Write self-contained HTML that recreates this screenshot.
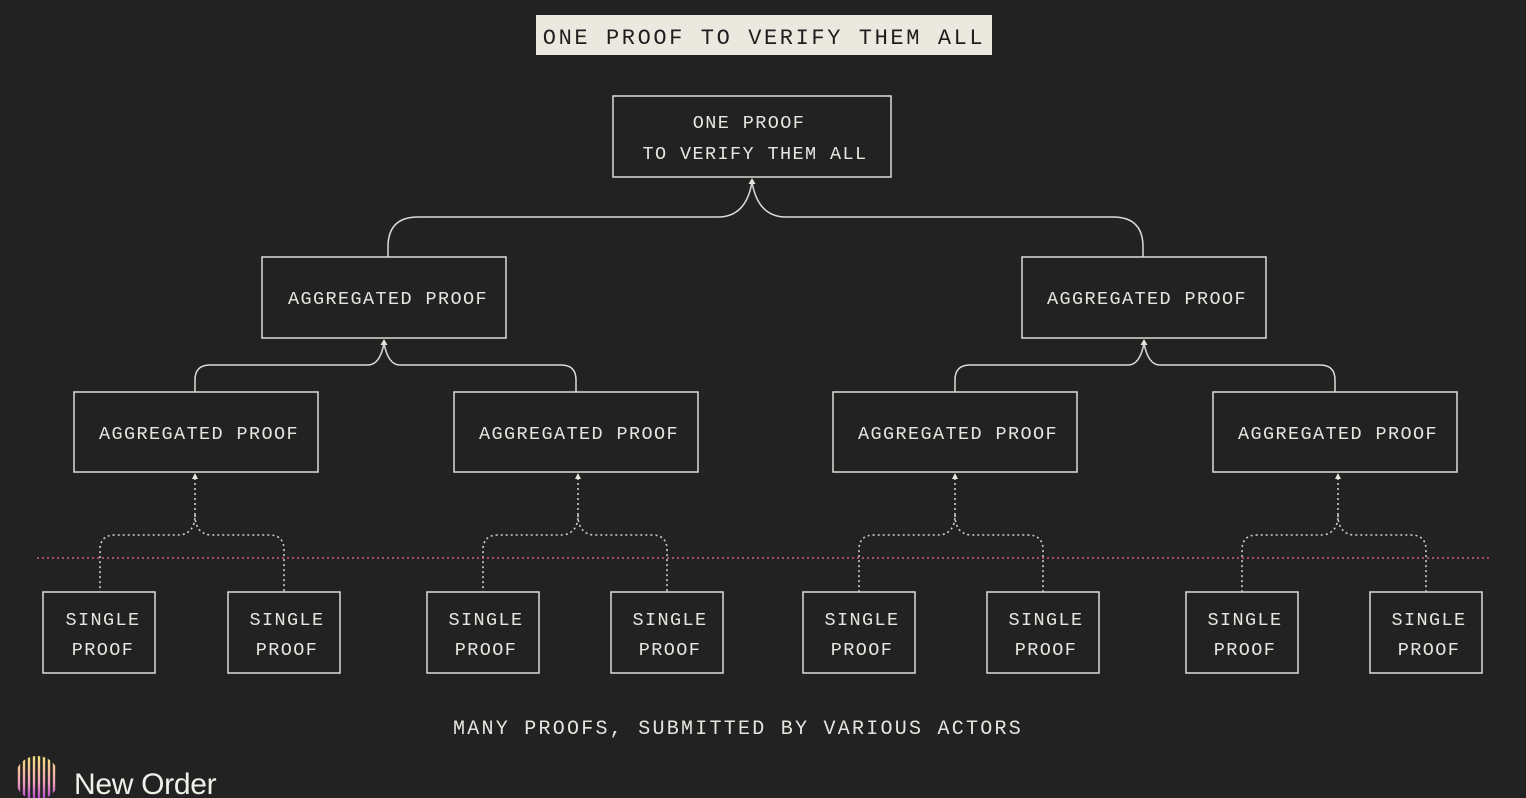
<!DOCTYPE html>
<html><head><meta charset="utf-8"><style>
html,body{margin:0;padding:0;background:#222222;}
svg{display:block}
text{font-family:"Liberation Mono",monospace;fill:#e6e6e0}
</style></head><body>
<svg id="s" width="1526" height="798" xmlns="http://www.w3.org/2000/svg">
<rect width="1526" height="798" fill="#222222"/>
<rect x="536" y="15" width="456" height="40" fill="#ebe9df"/>
<text x="764" y="44" text-anchor="middle" font-size="22" letter-spacing="2.6" style="fill:#1e1e1e">ONE PROOF TO VERIFY THEM ALL</text>
<g fill="none" stroke="#dcdcd6" stroke-width="1.5">
<rect x="613" y="96" width="278" height="81"/>
<rect x="262" y="257" width="244" height="81"/>
<rect x="1022" y="257" width="244" height="81"/>
<rect x="74" y="392" width="244" height="80"/>
<rect x="454" y="392" width="244" height="80"/>
<rect x="833" y="392" width="244" height="80"/>
<rect x="1213" y="392" width="244" height="80"/>
<rect x="43" y="592" width="112" height="81"/>
<rect x="228" y="592" width="112" height="81"/>
<rect x="427" y="592" width="112" height="81"/>
<rect x="611" y="592" width="112" height="81"/>
<rect x="803" y="592" width="112" height="81"/>
<rect x="987" y="592" width="112" height="81"/>
<rect x="1186" y="592" width="112" height="81"/>
<rect x="1370" y="592" width="112" height="81"/>
<path d="M388 257 V247 Q388 217 418 217 H718 Q746 217 752 182 Q758 217 786 217 H1113 Q1143 217 1143 247 V257"/>
<path d="M195 392 V380 Q195 365 210 365 H368 Q380 365 384 343 Q388 365 400 365 H561 Q576 365 576 380 V392"/>
<path d="M955 392 V380 Q955 365 970 365 H1128 Q1140 365 1144 343 Q1148 365 1160 365 H1320 Q1335 365 1335 380 V392"/>
</g>
<g fill="none" stroke="#cfcfc8" stroke-width="1.6" stroke-dasharray="2 3">
<path d="M195 478 V515 Q195 533 180 535 H115 Q100 535 100 550 V592 M195 515 Q195 533 210 535 H269 Q284 535 284 550 V592"/>
<path d="M578 478 V515 Q578 533 563 535 H498 Q483 535 483 550 V592 M578 515 Q578 533 593 535 H652 Q667 535 667 550 V592"/>
<path d="M955 478 V515 Q955 533 940 535 H874 Q859 535 859 550 V592 M955 515 Q955 533 970 535 H1028 Q1043 535 1043 550 V592"/>
<path d="M1338 478 V515 Q1338 533 1323 535 H1257 Q1242 535 1242 550 V592 M1338 515 Q1338 533 1353 535 H1411 Q1426 535 1426 550 V592"/>
</g>
<line x1="37" y1="558" x2="1490" y2="558" stroke="#d0607a" stroke-width="1.6" stroke-dasharray="2 3"/>
<g fill="#e6e6e0">
<path d="M752 178 l-3.5 6 h7z"/>
<path d="M384 339 l-3.5 6 h7z"/>
<path d="M1144 339 l-3.5 6 h7z"/>
<path d="M195 473 l-3 6 h6z"/>
<path d="M578 473 l-3 6 h6z"/>
<path d="M955 473 l-3 6 h6z"/>
<path d="M1338 473 l-3 6 h6z"/>
</g>
<g font-size="18.5" letter-spacing="1.4" text-anchor="middle">
<text x="749" y="128">ONE PROOF</text>
<text x="755" y="159">TO VERIFY THEM ALL</text>
<text x="388" y="304">AGGREGATED PROOF</text>
<text x="1147" y="304">AGGREGATED PROOF</text>
<text x="199" y="439">AGGREGATED PROOF</text>
<text x="579" y="439">AGGREGATED PROOF</text>
<text x="958" y="439">AGGREGATED PROOF</text>
<text x="1338" y="439">AGGREGATED PROOF</text>
<text x="103" y="625">SINGLE</text><text x="103" y="655">PROOF</text>
<text x="287" y="625">SINGLE</text><text x="287" y="655">PROOF</text>
<text x="486" y="625">SINGLE</text><text x="486" y="655">PROOF</text>
<text x="670" y="625">SINGLE</text><text x="670" y="655">PROOF</text>
<text x="862" y="625">SINGLE</text><text x="862" y="655">PROOF</text>
<text x="1046" y="625">SINGLE</text><text x="1046" y="655">PROOF</text>
<text x="1245" y="625">SINGLE</text><text x="1245" y="655">PROOF</text>
<text x="1429" y="625">SINGLE</text><text x="1429" y="655">PROOF</text>
</g>
<text x="738" y="734" font-size="20" letter-spacing="2.25" text-anchor="middle">MANY PROOFS, SUBMITTED BY VARIOUS ACTORS</text>
<defs><linearGradient id="g" gradientUnits="userSpaceOnUse" x1="0" y1="756" x2="0" y2="800"><stop offset="0" stop-color="#f5e27a"/><stop offset="0.6" stop-color="#f0a0b8"/><stop offset="1" stop-color="#b040d0"/></linearGradient>
<clipPath id="c"><circle cx="37" cy="778" r="22"/></clipPath></defs>
<g clip-path="url(#c)" stroke="url(#g)" stroke-width="2.4">
<line x1="19" y1="750" x2="19" y2="798"/><line x1="24" y1="750" x2="24" y2="798"/><line x1="29" y1="750" x2="29" y2="798"/><line x1="34" y1="750" x2="34" y2="798"/><line x1="39" y1="750" x2="39" y2="798"/><line x1="44" y1="750" x2="44" y2="798"/><line x1="49" y1="750" x2="49" y2="798"/><line x1="54" y1="750" x2="54" y2="798"/>
</g>
<text x="74" y="794" font-size="30" style="font-family:'Liberation Sans',sans-serif;fill:#f0f0ea;font-weight:500" letter-spacing="-0.3">New Order</text>
</svg>
</body></html>
